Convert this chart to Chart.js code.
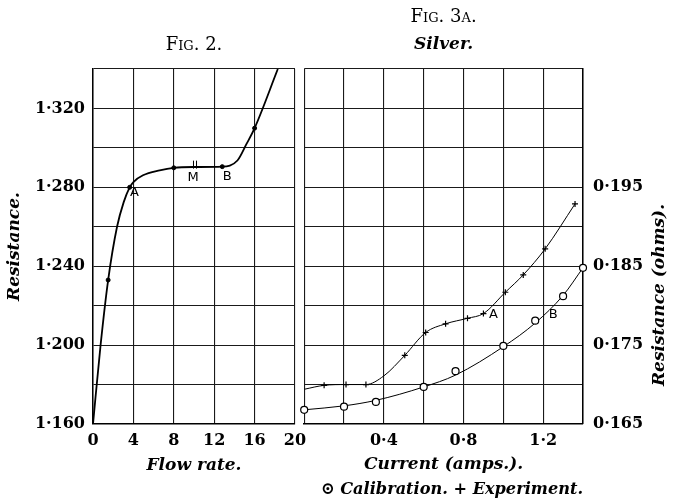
<!DOCTYPE html>
<html>
<head>
<meta charset="utf-8">
<script src="https://cdn.jsdelivr.net/npm/chart.js@4.4.1/dist/chart.umd.min.js"></script>
<style>
  html, body { margin: 0; padding: 0; background: #fff; }
  #wrap { position: relative; width: 673px; height: 502px; }
  .box { position: absolute; top: 0; height: 502px; }
</style>
</head>
<body>
<div id="wrap">
  <div class="box" style="left:0;width:320px"><canvas id="fig2"></canvas></div>
  <div class="box" style="left:299px;width:374px"><canvas id="fig3"></canvas></div>
</div>
<script>
// Fig. 2 - resistencia x vazao (curva)
const flowCurveX = [0, 0.75, 1.5, 2.38, 3.04, 3.63, 4.0, 4.95, 6.6, 8, 10, 12.8, 14.3, 15.2, 16, 18.3];
const flowCurveY = [1.160, 1.200, 1.233, 1.260, 1.2725, 1.280, 1.2827, 1.2861, 1.2886, 1.2899, 1.2903, 1.2905, 1.2936, 1.302, 1.310, 1.340];
const flowPointX = [1.5, 3.63, 8, 12.8, 16];
const flowPointY = [1.233, 1.280, 1.2899, 1.2905, 1.310];
const flowTickX = [0, 4, 8, 12, 16, 20];

// Fig. 3A - prata
const calibCurveX = [0, 0.2, 0.36, 0.6, 0.76, 1.0, 1.16, 1.3, 1.4];
const calibCurveY = [0.1668, 0.1673, 0.1680, 0.1697, 0.1712, 0.1748, 0.1778, 0.1813, 0.1848];
const calibPointX = [0, 0.2, 0.36, 0.6, 0.76, 1.0, 1.16, 1.3, 1.4];
const calibPointY = [0.1668, 0.1672, 0.1678, 0.1697, 0.1717, 0.1749, 0.1781, 0.1812, 0.1848];
const exptCurveX = [0, 0.1, 0.21, 0.31, 0.4, 0.505, 0.61, 0.71, 0.82, 0.9, 1.01, 1.1, 1.21, 1.36];
const exptCurveY = [0.1694, 0.1699, 0.1700, 0.1700, 0.1711, 0.1737, 0.1766, 0.1777, 0.1784, 0.1790, 0.1817, 0.1839, 0.1872, 0.1929];
const exptPointX = [0.1, 0.21, 0.31, 0.505, 0.61, 0.71, 0.82, 0.9, 1.01, 1.1, 1.21, 1.36];
const exptPointY = [0.1699, 0.1700, 0.1700, 0.1737, 0.1766, 0.1777, 0.1784, 0.1790, 0.1817, 0.1839, 0.1872, 0.1929];

const SERIF = '"DejaVu Serif", serif';
const INK = '#000';

function pts(xs, ys) {
    return xs.map((x, i) => ({ x: x, y: ys[i] }));
}

// numeros com ponto alto, como no original
function dotted(v, d) {
    return v.toFixed(d).replace('.', '·');
}

function gridOpts() {
    return { color: '#1a1a1a', lineWidth: 1.1, drawTicks: false };
}

function borderOpts() {
    return { color: INK, width: 1.5 };
}

// tamanho fixo dos eixos, sem folga para rotulos
function fixBox(w, h) {
    return function (s) {
        if (w) s.width = w;
        if (h) s.height = h;
        s.paddingLeft = 0;
        s.paddingRight = 0;
        s.paddingTop = 0;
        s.paddingBottom = 0;
    };
}

const tickFont = { family: SERIF, size: 16, weight: 'bold' };
const italicFont = { family: SERIF, size: 17, weight: 'bold', style: 'italic', lineHeight: '25px' };
const figFont = { family: SERIF, size: 18, weight: 'small-caps normal', lineHeight: 1 };

// letras A, M, B e titulo lateral
function notesPlugin(items, side) {
    return {
        id: 'notes',
        afterDatasetsDraw(chart) {
            const ctx = chart.ctx;
            const xs = chart.scales.x, ys = chart.scales.y;
            ctx.save();
            ctx.fillStyle = INK;
            ctx.font = '13px "DejaVu Sans"';
            ctx.textAlign = 'center';
            ctx.textBaseline = 'middle';
            items.forEach(n => {
                ctx.fillText(n.text, xs.getPixelForValue(n.x), ys.getPixelForValue(n.y));
            });
            if (side) {
                ctx.font = 'italic bold 17px ' + SERIF;
                ctx.translate(chart.chartArea.right + side.dx, chart.chartArea.top + side.dy);
                ctx.rotate(-Math.PI / 2);
                ctx.fillText(side.text, 0, 0);
            }
            ctx.restore();
        }
    };
}

new Chart(document.getElementById('fig2'), {
    type: 'line',
    data: {
        datasets: [
            {
                data: pts(flowPointX, flowPointY),
                showLine: false,
                pointStyle: 'circle',
                pointRadius: 2,
                backgroundColor: INK,
                borderColor: INK
            },
            {
                data: [{ x: 9.95, y: 1.2915 }, { x: 10.25, y: 1.2915 }],
                showLine: false,
                pointStyle: 'line',
                rotation: 90,
                pointRadius: 4,
                borderWidth: 1,
                borderColor: INK
            },
            {
                data: pts(flowCurveX, flowCurveY),
                borderColor: INK,
                borderWidth: 1.8,
                pointRadius: 0,
                cubicInterpolationMode: 'monotone',
                clip: 0
            }
        ]
    },
    options: {
        responsive: true,
        maintainAspectRatio: false,
        animation: false,
        layout: { padding: { left: 0, right: 25, top: 0, bottom: 0 } },
        plugins: {
            legend: { display: false },
            tooltip: { enabled: false },
            title: {
                display: true,
                text: 'Fig. 2.',
                fullSize: false,
                color: INK,
                font: figFont,
                padding: { top: 36, bottom: 15 }
            }
        },
        scales: {
            x: {
                type: 'linear',
                min: 0,
                max: 20,
                afterFit: fixBox(0, 78),
                afterBuildTicks(s) { s.ticks = flowTickX.map(v => ({ value: v })); },
                ticks: { font: tickFont, color: INK, padding: 7, autoSkip: false, maxRotation: 0 },
                grid: gridOpts(),
                border: borderOpts(),
                title: { display: true, text: 'Flow rate.', color: INK, font: italicFont, padding: { top: 0, bottom: 24 } }
            },
            y: {
                type: 'linear',
                min: 1.16,
                max: 1.34,
                afterFit: fixBox(93, 0),
                ticks: {
                    stepSize: 0.02,
                    font: tickFont,
                    color: INK,
                    padding: 8,
                    autoSkip: false,
                    callback(v) {
                        const m = Math.round(v * 1000);
                        return m % 40 === 0 ? dotted(v, 3) : '';
                    }
                },
                grid: gridOpts(),
                border: borderOpts(),
                title: { display: true, text: 'Resistance.', color: INK, font: Object.assign({}, italicFont, { lineHeight: '20px' }), padding: { top: 5, bottom: 0 } }
            }
        }
    },
    plugins: [notesPlugin([
        { x: 4.1, y: 1.2775, text: 'A' },
        { x: 9.9, y: 1.285, text: 'M' },
        { x: 13.3, y: 1.2855, text: 'B' }
    ])]
});

new Chart(document.getElementById('fig3'), {
    type: 'line',
    data: {
        datasets: [
            {
                data: pts(calibPointX, calibPointY),
                showLine: false,
                pointStyle: 'circle',
                pointRadius: 3.5,
                borderWidth: 1.2,
                borderColor: INK,
                backgroundColor: '#fff',
                clip: false
            },
            {
                data: pts(exptPointX, exptPointY),
                showLine: false,
                pointStyle: 'cross',
                pointRadius: 3,
                borderWidth: 1.2,
                borderColor: INK
            },
            {
                data: pts(calibCurveX, calibCurveY),
                borderColor: INK,
                borderWidth: 1,
                pointRadius: 0,
                cubicInterpolationMode: 'monotone',
                clip: 0
            },
            {
                data: pts(exptCurveX, exptCurveY),
                borderColor: INK,
                borderWidth: 1,
                pointRadius: 0,
                cubicInterpolationMode: 'monotone',
                clip: 0
            }
        ]
    },
    options: {
        responsive: true,
        maintainAspectRatio: false,
        animation: false,
        layout: { padding: { left: 2, right: 0, top: 0, bottom: 0 } },
        plugins: {
            legend: { display: false },
            tooltip: { enabled: false },
            title: {
                display: true,
                text: 'Fig. 3a.',
                fullSize: false,
                color: INK,
                font: figFont,
                padding: { top: 8, bottom: 10 }
            },
            subtitle: {
                display: true,
                text: 'Silver.',
                fullSize: false,
                color: INK,
                font: { family: SERIF, size: 17, weight: 'bold', style: 'italic', lineHeight: 1 },
                padding: { top: 0, bottom: 16 }
            }
        },
        scales: {
            x: {
                type: 'linear',
                min: 0,
                max: 1.4,
                afterFit: fixBox(0, 78),
                ticks: {
                    stepSize: 0.2,
                    font: tickFont,
                    color: INK,
                    padding: 7,
                    autoSkip: false,
                    maxRotation: 0,
                    callback(v) {
                        const m = Math.round(v * 10);
                        return (m > 0 && m % 4 === 0) ? dotted(v, 1) : '';
                    }
                },
                grid: gridOpts(),
                border: borderOpts(),
                title: {
                    display: true,
                    text: ['Current (amps.).', '   ⊙ Calibration. + Experiment.'],
                    color: INK,
                    font: italicFont,
                    padding: { top: 0, bottom: 0 }
                }
            },
            y: {
                type: 'linear',
                position: 'right',
                min: 0.165,
                max: 0.21,
                afterFit: fixBox(90, 0),
                ticks: {
                    stepSize: 0.005,
                    font: tickFont,
                    color: INK,
                    padding: 10,
                    autoSkip: false,
                    callback(v) {
                        const m = Math.round(v * 1000);
                        return ((m - 165) % 10 === 0 && m < 200) ? dotted(v, 3) : '';
                    }
                },
                grid: gridOpts(),
                border: borderOpts()
            }
        }
    },
    plugins: [notesPlugin([
        { x: 0.95, y: 0.1789, text: 'A' },
        { x: 1.25, y: 0.1789, text: 'B' }
    ], { text: 'Resistance (ohms).', dx: 77, dy: 226 })]
});
</script>
</body>
</html>
